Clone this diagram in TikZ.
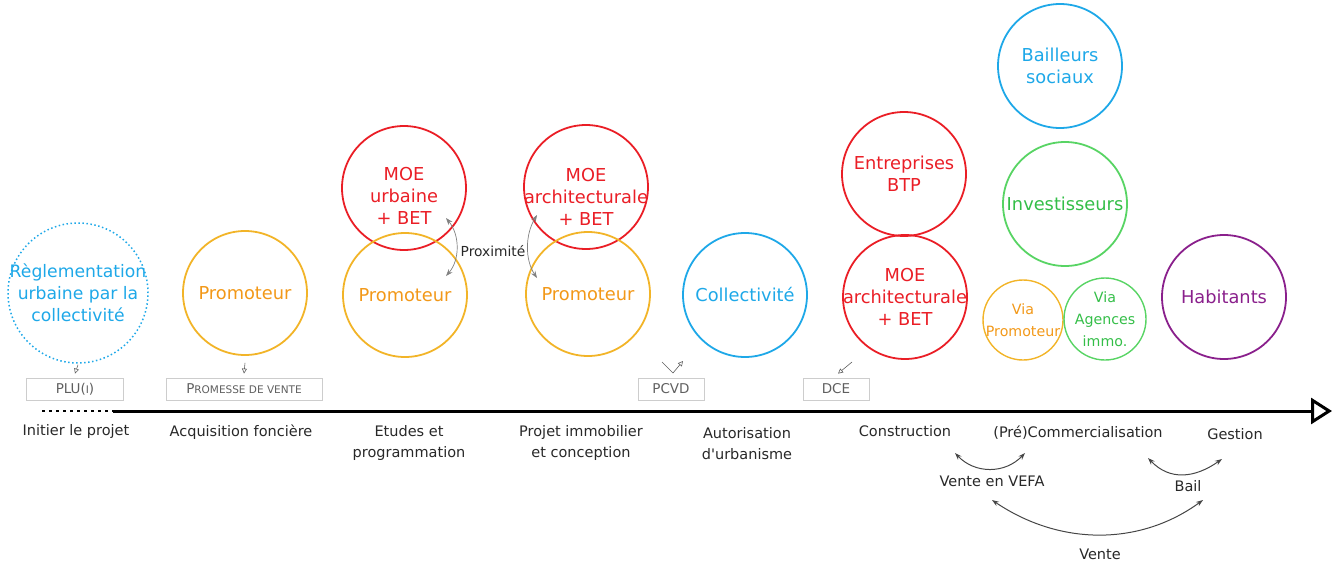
\documentclass[tikz,border=0pt]{standalone}
\usepackage{fontspec}
\setmainfont{DejaVu Sans}
\usetikzlibrary{arrows.meta}

\definecolor{acteurbleu}{RGB}{30,168,232}
\definecolor{acteurorange}{RGB}{242,180,40}
\definecolor{texteorange}{RGB}{242,152,24}
\definecolor{acteurrouge}{RGB}{234,30,38}
\definecolor{acteurvert}{RGB}{88,212,100}
\definecolor{textevert}{RGB}{52,190,72}
\definecolor{acteurviolet}{RGB}{138,32,140}
\definecolor{boitegris}{RGB}{205,205,205}
\definecolor{docgris}{RGB}{95,95,95}
\definecolor{textegris}{RGB}{40,40,40}
\definecolor{liengris}{RGB}{70,70,70}

\begin{document}
\begin{tikzpicture}[x=1pt, y=-1pt,
  acteur/.style={circle, draw, line width=1.8pt, minimum size=124pt, inner sep=-30pt, align=center, font=\fontsize{17.8}{22}\selectfont},
  petitacteur/.style={acteur, minimum size=80pt, line width=1.4pt, font=\fontsize{14.2}{22}\selectfont},
  doc/.style={rectangle, draw=boitegris, line width=0.8pt, minimum height=22pt, text=docgris, font=\fontsize{13.5}{14}\selectfont},
  phase/.style={align=center, text=textegris, font=\fontsize{14.5}{21}\selectfont},
  fleche/.style={-{Triangle[open, length=5pt, width=5pt]}, draw=docgris, line width=0.6pt},
  lien/.style={{Stealth[length=7pt, width=5pt]}-{Stealth[length=7pt, width=5pt]}, draw=liengris, line width=1pt}]
  \useasboundingbox (0,0) rectangle (1344,563);

  % acteurs
  \node[acteur, minimum size=140pt, draw=acteurbleu, text=acteurbleu, line width=1.5pt, dash pattern=on 1.5pt off 2.5pt, font=\fontsize{17.2}{22}\selectfont] (regl) at (78,293) {Règlementation\\urbaine par la\\collectivité};
  \node[acteur, draw=acteurorange, text=texteorange] (promA) at (245,293) {Promoteur};
  \node[acteur, draw=acteurrouge, label={[yshift=-8pt, text=acteurrouge, align=center, font=\fontsize{17.8}{22}\selectfont]center:MOE\\urbaine\\+ BET}] (moeU) at (404,188) {};
  \node[acteur, draw=acteurorange, text=texteorange] (promB) at (405,295) {Promoteur};
  \node[acteur, draw=acteurrouge, label={[yshift=-10pt, text=acteurrouge, align=center, font=\fontsize{17.8}{22}\selectfont]center:MOE\\architecturale\\+ BET}] (moeA) at (586,187) {};
  \node[acteur, draw=acteurorange, text=texteorange] (promC) at (588,294) {Promoteur};
  \node[acteur, draw=acteurbleu, text=acteurbleu] (coll) at (745,295) {Collectivité};
  \node[acteur, draw=acteurrouge, text=acteurrouge] (entBTP) at (904,174) {Entreprises\\BTP};
  \node[acteur, draw=acteurrouge, text=acteurrouge] (moeB) at (905,297) {MOE\\architecturale\\+ BET};
  \node[acteur, draw=acteurbleu, text=acteurbleu] (bailleurs) at (1060,66) {Bailleurs\\sociaux};
  \node[acteur, draw=acteurvert, text=textevert] (invest) at (1065,204) {Investisseurs};
  \node[petitacteur, draw=acteurorange, text=texteorange] (viaProm) at (1023,320) {Via\\Promoteur};
  \node[petitacteur, minimum size=82pt, draw=acteurvert, text=textevert] (viaAg) at (1105,319) {Via\\Agences\\immo.};
  \node[acteur, draw=acteurviolet, text=acteurviolet] (habit) at (1224,297) {Habitants};

  % documents
  \node[doc, minimum width=97pt] (plu) at (75,389) {PLU({\fontsize{10.5}{12}\selectfont I})};
  \node[doc, minimum width=156pt] (promesse) at (244,389) {P{\fontsize{10.5}{12}\selectfont ROMESSE DE VENTE}};
  \node[doc, minimum width=66pt] (pcvd) at (671,389) {PCVD};
  \node[doc, minimum width=66pt] (dce) at (836,389) {DCE};

  \draw[fleche] ([yshift=-1pt]regl.south) -- ([yshift=4pt]plu.north);
  \draw[fleche] ([yshift=-7pt]promA.south) -- ([yshift=4pt]promesse.north);
  \coordinate (pcvdA) at (662,362);
  \coordinate (pcvdB) at (673,373);
  \coordinate (pcvdC) at (683,361);
  \draw[fleche] (pcvdA) -- (pcvdB) -- (pcvdC);
  \coordinate (dceA) at (852,362);
  \draw[fleche] (dceA) -- ([xshift=2pt, yshift=4pt]dce.north);

  % proximite
  \node[text=textegris, font=\fontsize{13.8}{14}\selectfont] (prox) at (493,251) {Proximité};
  \coordinate (proxA) at (446,218);
  \coordinate (proxB) at (446,276);
  \coordinate (proxC) at (537,215);
  \coordinate (proxD) at (537,278);
  \draw[lien, line width=0.7pt, draw=gray] (proxA) .. controls (460,235) and (460,260) .. (proxB);
  \draw[lien, line width=0.7pt, draw=gray] (proxC) .. controls (525,235) and (525,260) .. (proxD);

  % frise
  \coordinate (debut) at (42,411);
  \coordinate (milieu) at (113,411);
  \coordinate (fin) at (1332,411);
  \draw[line width=2.5pt, dash pattern=on 2.5pt off 4.5pt] (debut) -- (milieu);
  \draw[line width=3pt, -{Triangle[open, length=21pt, width=26pt, line width=3pt]}] (milieu) -- (fin);

  % phases
  \node[phase] (ph1) at (76,431) {Initier le projet};
  \node[phase] (ph2) at (241,432) {Acquisition foncière};
  \node[phase] (ph3) at (409,443) {Etudes et\\programmation};
  \node[phase] (ph4) at (581,443) {Projet immobilier\\et conception};
  \node[phase] (ph5) at (747,444) {Autorisation\\d\textquotesingle urbanisme};
  \node[phase] (ph6) at (905,431) {Construction};
  \node[phase] (ph7) at (1078,433) {(Pré)Commercialisation};
  \node[phase] (ph8) at (1235,434) {Gestion};

  % ventes
  \node[phase] (vefa) at (992,481) {Vente en VEFA};
  \node[phase] (bail) at (1188,486) {Bail};
  \node[phase] (vente) at (1100,554) {Vente};
  \coordinate (vefaA) at (955,453);
  \coordinate (vefaB) at (1025,453);
  \coordinate (bailA) at (1148,458);
  \coordinate (bailB) at (1222,459);
  \coordinate (venteA) at (992,500);
  \coordinate (venteB) at (1203,500);
  \draw[lien] (vefaA) .. controls (975,474) and (1005,474) .. (vefaB);
  \draw[lien] (bailA) .. controls (1170,481) and (1195,478) .. (bailB);
  \draw[lien] (venteA) .. controls (1060,546) and (1140,546) .. (venteB);
\end{tikzpicture}
\end{document}
